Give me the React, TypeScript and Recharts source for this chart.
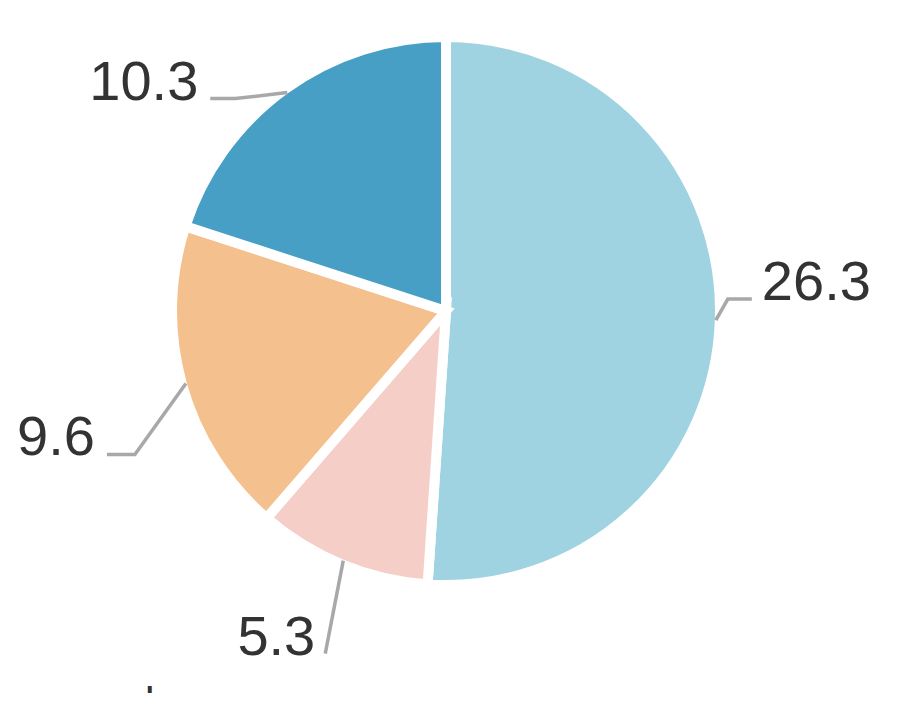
import React from 'react';
import { PieChart, Pie, Cell } from 'recharts';

const names = ['A', 'B', 'C', 'D'];
const values = [26.3, 5.3, 9.6, 10.3];
const COLORS = ['#a0d3e1', '#f5cfc7', '#f4c08d', '#489fc5'];
const FOOTER = 'research';

// label line layout: elbow offset from the slice edge, then horizontal run, then text gap
const LABEL_LAYOUT = [
  { dx: 12, dy: -21, run: 24, gap: 10, anchor: 'start' },
  { dx: -18, dy: 93, run: 0, gap: -10, anchor: 'end' },
  { dx: -51, dy: 71, run: -28, gap: -12, anchor: 'end' },
  { dx: -52, dy: 6, run: -25, gap: -12, anchor: 'end' },
];

const RAD = Math.PI / 180;
const FONT = "'Liberation Sans', Arial, sans-serif";

const renderLabel = (props: any) => {
  const { cx, cy, midAngle, outerRadius, index, value } = props;
  const l = LABEL_LAYOUT[index];
  const r = outerRadius - 4;
  const x0 = cx + r * Math.cos(-midAngle * RAD);
  const y0 = cy + r * Math.sin(-midAngle * RAD);
  const x1 = x0 + l.dx;
  const y1 = y0 + l.dy;
  const x2 = x1 + l.run;
  return (
    <g>
      <polyline
        points={`${x0},${y0} ${x1},${y1} ${x2},${y1}`}
        fill="none"
        stroke="#a8a8a8"
        strokeWidth={3.5}
      />
      <text x={x2 + l.gap} y={y1 + 1} textAnchor={l.anchor} fill="#333333" fontSize={56} fontFamily={FONT}>
        {value}
      </text>
    </g>
  );
};

const App = () => {
  const data = names.map((name, i) => ({ name, value: values[i] }));

  return (
    <div style={{ width: 920, height: 701, margin: -8, overflow: 'hidden', background: '#fff' }}>
      <PieChart width={920} height={701} margin={{ top: 0, right: 0, bottom: 0, left: 0 }}>
        <Pie
          data={data}
          dataKey="value"
          nameKey="name"
          cx={446}
          cy={311}
          outerRadius={274}
          startAngle={90}
          endAngle={-270}
          stroke="#ffffff"
          strokeWidth={10}
          label={renderLabel}
          labelLine={false}
          isAnimationActive={false}
        >
          {data.map((_, index) => (
            <Cell key={index} fill={COLORS[index % COLORS.length]} />
          ))}
        </Pie>
        <text x={-2} y={718} fill="#333333" fontSize={44} fontFamily={FONT}>
          {FOOTER}
        </text>
      </PieChart>
    </div>
  );
};

export default App;
